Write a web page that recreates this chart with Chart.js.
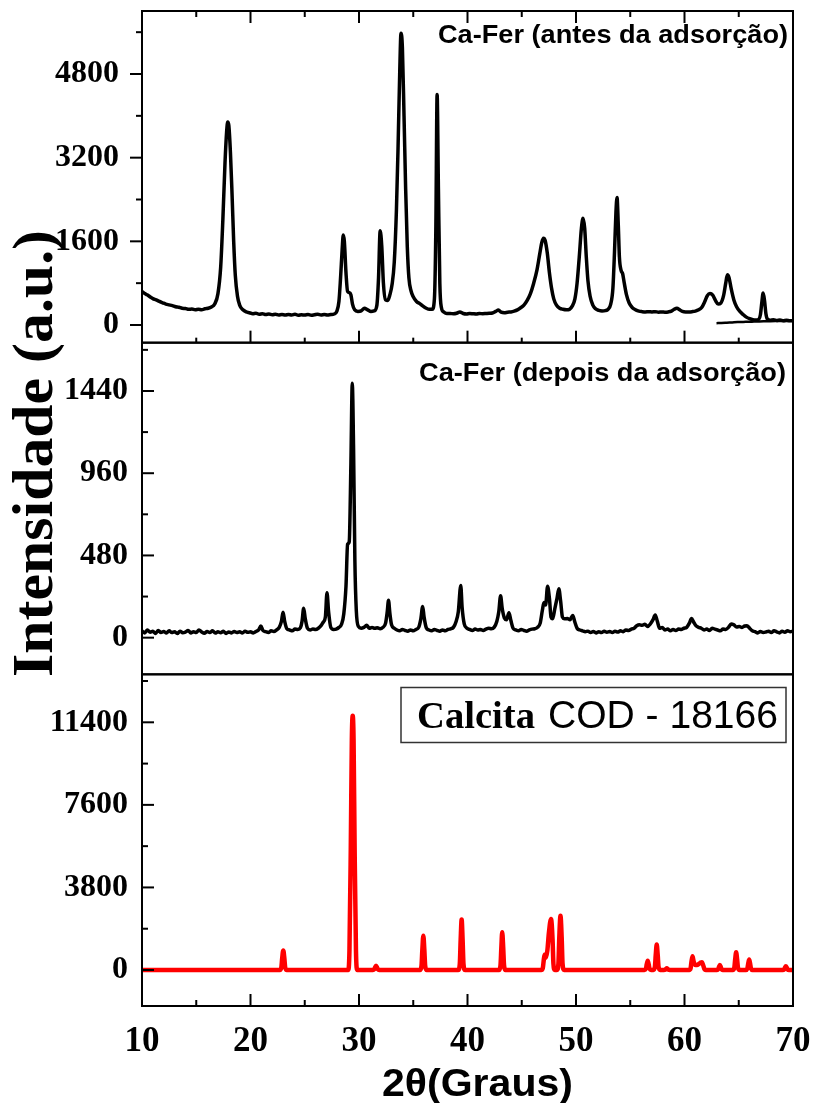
<!DOCTYPE html>
<html>
<head>
<meta charset="utf-8">
<title>DRX Ca-Fer</title>
<script src="https://cdn.jsdelivr.net/npm/chart.js@4.4.1/dist/chart.umd.min.js"></script>
<style>
body{margin:0;background:#fff}
canvas{display:block}
</style>
</head>
<body>
<canvas id="drx" width="816" height="1103"></canvas>
<script>
// Ca-Fer (antes da adsorção)
const antes2t=[
  10.0,10.2,10.4,10.6,10.8,11.0,11.3,11.6,11.9,12.2,
  12.5,12.8,13.1,13.4,13.7,14.0,14.3,14.6,14.9,15.2,
  15.5,15.8,16.1,16.4,16.7,17.0,17.25,17.45,17.65,17.8,
  17.9,18.0,18.15,18.3,18.45,18.6,18.8,19.0,19.3,19.6,
  19.9,20.2,20.5,20.8,21.1,21.4,21.7,22.0,22.3,22.6,
  22.9,23.2,23.5,23.8,24.1,24.4,24.7,25.0,25.3,25.6,
  25.9,26.2,26.5,26.8,27.1,27.4,27.7,27.95,28.15,28.3,
  28.45,28.55,28.65,28.8,28.95,29.1,29.25,29.4,29.6,29.9,
  30.2,30.5,30.8,31.1,31.4,31.65,31.8,31.95,32.1,32.25,
  32.45,32.65,32.85,33.05,33.25,33.45,33.6,33.75,33.87,34.0,
  34.15,34.3,34.45,34.6,34.8,35.0,35.3,35.6,35.9,36.2,
  36.5,36.75,36.95,37.08,37.2,37.32,37.45,37.6,37.8,38.1,
  38.4,38.7,39.0,39.3,39.6,39.9,40.2,40.5,40.8,41.1,
  41.4,41.7,42.0,42.3,42.6,42.85,43.1,43.4,43.7,44.0,
  44.3,44.6,44.9,45.2,45.5,45.8,46.1,46.4,46.65,46.85,
  47.0,47.15,47.35,47.55,47.75,47.95,48.2,48.5,48.8,49.1,
  49.4,49.65,49.9,50.1,50.3,50.5,50.65,50.8,50.95,51.1,
  51.3,51.55,51.8,52.1,52.4,52.7,52.95,53.2,53.4,53.55,
  53.68,53.78,53.9,54.0,54.15,54.3,54.45,54.65,54.9,55.2,
  55.5,55.8,56.1,56.4,56.7,57.0,57.3,57.6,57.9,58.2,
  58.5,58.8,59.05,59.3,59.55,59.8,60.1,60.4,60.7,61.0,
  61.3,61.6,61.85,62.1,62.35,62.6,62.85,63.1,63.35,63.6,
  63.8,63.95,64.1,64.3,64.55,64.8,65.1,65.4,65.7,66.0,
  66.3,66.6,66.85,67.0,67.12,67.25,67.38,67.5,67.65,67.9,
  68.2,68.5,68.8,69.1,69.4,69.7,70.0
]
const antesI=[
  640,610,585,560,530,505,480,450,425,400,
  385,370,350,340,320,315,300,305,290,300,
  290,310,320,345,400,600,1100,2000,3100,3700,
  3880,3820,3300,2500,1600,950,550,380,290,250,
  235,215,225,205,215,200,210,195,205,190,
  200,190,200,190,205,185,195,190,200,185,
  195,205,190,200,190,200,210,260,450,900,
  1450,1720,1600,1000,640,620,580,400,290,260,
  270,320,290,260,270,380,900,1800,1500,800,
  480,470,580,780,1200,2200,3400,4800,5580,5300,
  4000,2600,1500,900,650,540,450,410,360,320,
  300,300,500,1800,4410,2600,800,330,250,220,
  220,215,225,250,220,210,220,215,210,220,
  215,220,225,230,260,285,245,235,245,250,
  265,290,330,380,470,600,800,1050,1350,1580,
  1660,1620,1380,1000,700,500,380,320,300,290,
  300,360,500,800,1300,1850,2040,1850,1300,850,
  550,380,310,280,270,275,300,400,700,1400,
  2150,2440,1900,1300,1050,980,800,580,420,330,
  290,265,255,250,255,250,255,245,250,245,
  250,265,300,320,290,260,250,250,255,265,
  290,340,440,560,600,570,470,400,420,560,
  800,960,910,700,480,350,260,200,150,120,
  100,95,110,200,420,610,460,220,110,90,
  100,85,95,80,90,80,85
]
// second, shorter scan overlapping the end of the pattern
const antesCauda2t=[62.95,63.4,63.9,64.4,64.9,65.4,65.9,66.4,66.9,67.4,67.9,68.4,68.9,69.4,70.0]
const antesCaudaI=[35,40,45,50,55,58,62,65,68,70,72,74,76,78,80]

// Ca-Fer (depois da adsorção)
const depois2t=[
  10.0,10.25,10.5,10.75,11.0,11.25,11.5,11.75,12.0,12.25,
  12.5,12.75,13.0,13.25,13.5,13.75,14.0,14.25,14.5,14.75,
  15.0,15.25,15.5,15.75,16.0,16.25,16.5,16.75,17.0,17.25,
  17.5,17.75,18.0,18.25,18.5,18.75,19.0,19.25,19.5,19.75,
  20.0,20.25,20.5,20.75,20.95,21.15,21.4,21.65,21.9,22.15,
  22.4,22.65,22.85,23.0,23.15,23.35,23.6,23.85,24.1,24.35,
  24.6,24.75,24.9,25.05,25.25,25.5,25.75,26.0,26.25,26.5,
  26.7,26.9,27.05,27.2,27.4,27.65,27.9,28.15,28.4,28.6,
  28.8,28.95,29.1,29.25,29.38,29.5,29.62,29.75,29.95,30.2,
  30.45,30.7,30.95,31.2,31.45,31.7,31.95,32.2,32.45,32.6,
  32.72,32.85,33.0,33.25,33.5,33.75,34.0,34.25,34.5,34.75,
  35.0,35.25,35.5,35.7,35.87,36.0,36.2,36.45,36.7,36.95,
  37.2,37.45,37.7,37.95,38.2,38.45,38.7,38.95,39.15,39.38,
  39.5,39.7,39.95,40.2,40.45,40.7,40.95,41.2,41.45,41.7,
  41.95,42.2,42.45,42.7,42.88,43.05,43.2,43.4,43.6,43.82,
  44.0,44.2,44.45,44.7,44.95,45.2,45.45,45.7,45.95,46.2,
  46.45,46.7,46.9,47.05,47.2,47.38,47.55,47.7,47.85,48.05,
  48.25,48.42,48.58,48.75,48.95,49.2,49.45,49.7,49.9,50.1,
  50.35,50.6,50.85,51.1,51.35,51.6,51.85,52.1,52.35,52.6,
  52.85,53.1,53.35,53.6,53.85,54.1,54.35,54.6,54.85,55.1,
  55.35,55.6,55.85,56.1,56.35,56.6,56.85,57.1,57.3,57.5,
  57.7,57.95,58.2,58.45,58.7,58.95,59.2,59.45,59.7,59.95,
  60.2,60.45,60.65,60.85,61.05,61.3,61.55,61.8,62.05,62.3,
  62.55,62.8,63.05,63.3,63.55,63.8,64.05,64.3,64.55,64.8,
  65.05,65.3,65.55,65.75,66.0,66.25,66.5,66.75,67.0,67.25,
  67.5,67.75,68.0,68.25,68.5,68.75,69.0,69.25,69.5,69.75,
  70.0
]
const depoisI=[
  40,28,45,32,38,25,42,30,36,27,
  40,30,35,24,38,29,33,42,28,35,
  30,45,33,26,36,30,40,27,34,29,
  37,25,33,28,36,30,35,27,38,31,
  34,28,36,45,68,42,35,30,40,36,
  45,60,95,148,95,52,45,40,50,48,
  58,95,172,110,55,45,50,48,55,70,
  90,120,262,150,60,48,50,60,80,140,
  300,545,560,1000,1485,1100,450,160,65,55,
  60,72,55,60,55,58,52,60,85,150,
  218,140,75,55,45,40,48,42,38,45,
  40,48,60,110,182,120,58,45,40,48,
  42,38,45,40,48,52,60,95,150,305,
  180,80,55,48,42,50,45,48,42,50,
  55,52,60,95,150,245,170,115,105,145,
  100,55,45,40,48,42,38,45,50,52,
  60,85,160,205,190,300,230,120,110,170,
  230,285,215,120,110,112,105,130,90,55,
  45,40,35,38,30,36,28,35,30,38,
  32,36,30,38,33,40,35,45,42,50,
  55,70,75,72,78,65,80,105,132,95,
  55,60,45,50,40,48,42,50,48,55,
  60,85,112,90,70,60,55,45,50,42,
  55,50,45,40,50,48,60,80,75,62,
  65,60,68,70,55,40,35,28,36,30,
  33,38,30,40,34,28,38,32,40,35,
  38
]

// Calcita COD - 18166 (padrão de referência)
const calcita2t=[
  10.0,22.7,22.84,22.92,23.02,23.12,23.2,23.34,
  29.0,29.12,29.24,29.34,29.42,29.5,29.6,29.72,29.84,
  31.28,31.4,31.48,31.57,31.66,31.74,31.86,
  35.62,35.76,35.84,35.93,36.02,36.1,36.24,
  39.15,39.29,39.37,39.46,39.55,39.63,39.77,
  42.9,43.04,43.12,43.2,43.29,43.37,43.5,
  46.8,46.94,47.02,47.1,47.2,47.36,47.5,47.7,47.84,47.92,48.04,
  48.25,48.38,48.46,48.57,48.68,48.76,48.9,
  56.3,56.44,56.52,56.61,56.7,56.78,56.92,
  57.13,57.27,57.35,57.44,57.53,57.61,57.75,
  58.1,58.22,58.29,58.37,58.45,58.52,58.64,
  60.44,60.56,60.64,60.74,60.84,60.98,61.15,61.35,61.5,61.6,61.72,61.84,61.96,
  63.0,63.1,63.18,63.26,63.34,63.42,63.52,
  64.45,64.59,64.67,64.76,64.85,64.93,65.07,
  65.65,65.79,65.87,65.96,66.05,66.13,66.27,
  69.05,69.17,69.25,69.34,69.43,69.51,69.63,70.0
]
const calcitaI=[
  0,0,110,540,900,540,110,0,
  0,900,5500,10600,11700,10600,5500,900,0,
  0,25,120,200,120,25,0,
  0,190,950,1580,950,190,0,
  0,280,1390,2320,1390,280,0,
  0,210,1040,1740,1040,210,0,
  0,85,420,700,560,900,1700,2350,1410,280,0,
  0,300,1500,2500,1500,300,0,
  0,50,260,430,260,50,0,
  0,140,700,1170,700,140,0,
  0,10,50,80,50,10,0,
  0,70,380,630,400,240,230,290,340,355,220,40,0,
  0,30,140,230,140,30,0,
  0,100,490,815,490,100,0,
  0,60,290,480,290,60,0,
  0,20,100,170,100,20,0,0
]

// axis ranges and labelled ticks
const xTicks=[10,20,30,40,50,60,70]
const yTicks={yA:[0,1600,3200,4800],yB:[0,480,960,1440],yC:[0,3800,7600,11400]}
const yRanges={yA:[-338,6005],yB:[-214,1722],yC:[-1657,13608]}

const serif='Liberation Serif', sans='Liberation Sans'
const pts=(xs,ys)=>xs.map((x,i)=>({x,y:ys[i]}))

function yAxis(id,pad){
    return {
        type:'linear',position:'left',stack:'drx',stackWeight:1,
        min:yRanges[id][0],max:yRanges[id][1],
        border:{display:false},
        grid:{display:false,drawTicks:false},
        afterBuildTicks:s=>{s.ticks=yTicks[id].map(v=>({value:v}))},
        ticks:{autoSkip:false,padding:pad,color:'#000',
            font:{family:serif,size:32,weight:'bold'},callback:v=>String(v)},
        afterFit:s=>{s.width=142;s.paddingTop=0;s.paddingBottom=0}
    }
}

// stretch a line of text to a given width
function fitText(ctx,text,x,y,w){
    const m=ctx.measureText(text).width
    ctx.save()
    ctx.translate(x,y)
    ctx.scale(w/m,1)
    ctx.fillText(text,0,0)
    ctx.restore()
}

// frame, tick marks and the labels drawn inside the panels
const moldura={
    id:'moldura',
    afterDraw(chart){
        const {ctx,chartArea:{left,right}}=chart
        const sx=chart.scales.x, yA=chart.scales.yA, yB=chart.scales.yB, yC=chart.scales.yC
        ctx.save()
        ctx.strokeStyle='#000'
        ctx.lineWidth=2
        for(const s of [yA,yB,yC]) ctx.strokeRect(left,s.top,right-left,s.bottom-s.top)

        const line=(x1,y1,x2,y2)=>{ctx.beginPath();ctx.moveTo(x1,y1);ctx.lineTo(x2,y2);ctx.stroke()}
        for(let v=15;v<70;v+=5){
            const px=sx.getPixelForValue(v)
            const major=v%10===0
            line(px,yA.top,px,yA.top+(major?12:6))
            line(px,yA.bottom,px,yA.bottom-(major?12:5))
            line(px,yC.bottom,px,yC.bottom-(major?12:6))
        }
        // top panel: ticks outside, the other two: ticks inside
        for(let v=0;v<=5600;v+=800){
            const py=yA.getPixelForValue(v)
            line(left-(v%1600===0?12:6),py,left,py)
        }
        for(let v=0;v<=1680;v+=240){
            const py=yB.getPixelForValue(v)
            line(left,py,left+(v%480===0?12:6),py)
        }
        for(let v=0;v<=13300;v+=1900){
            const py=yC.getPixelForValue(v)
            line(left,py,left+(v%3800===0?12:6),py)
        }

        ctx.fillStyle='#000'
        ctx.textAlign='left'
        ctx.textBaseline='alphabetic'
        ctx.font=`bold 26px '${sans}'`
        fitText(ctx,'Ca-Fer (antes da adsorção)',438,43,350)
        fitText(ctx,'Ca-Fer (depois da adsorção)',419,381,367)

        // legend box of the reference pattern
        ctx.lineWidth=1.5
        ctx.strokeStyle='#333'
        ctx.strokeRect(401,687.5,385,55)
        ctx.font=`bold 38px '${serif}'`
        fitText(ctx,'Calcita',417,728,118)
        ctx.font=`38px '${sans}'`
        fitText(ctx,'COD - 18166',548,728,230)

        // axis titles
        ctx.font=`bold 39px '${sans}'`
        fitText(ctx,'2θ(Graus)',382,1096,191)
        ctx.save()
        ctx.translate(52,677)
        ctx.rotate(-Math.PI/2)
        ctx.font=`bold 57px '${serif}'`
        fitText(ctx,'Intensidade (a.u.)',0,0,447)
        ctx.restore()
        ctx.restore()
    }
}

const linha={pointRadius:0,fill:false,cubicInterpolationMode:'monotone',borderJoinStyle:'round',borderColor:'#000',borderWidth:3.5}

new Chart(document.querySelector('#drx'),{
    type:'line',
    data:{
        datasets:[
            {...linha,data:pts(antes2t,antesI),yAxisID:'yA'},
            {...linha,data:pts(antesCauda2t,antesCaudaI),yAxisID:'yA',borderWidth:2.5},
            {...linha,data:pts(depois2t,depoisI),yAxisID:'yB'},
            {...linha,data:pts(calcita2t,calcitaI),yAxisID:'yC',borderColor:'#ff0000',borderWidth:4.5}
        ]
    },
    options:{
        responsive:false,
        animation:false,
        devicePixelRatio:1,
        layout:{padding:{top:11,right:23,left:0,bottom:0}},
        plugins:{legend:{display:false},tooltip:{enabled:false}},
        scales:{
            x:{
                type:'linear',position:'bottom',min:10,max:70,
                border:{display:false},
                grid:{display:false,drawTicks:false},
                afterBuildTicks:s=>{s.ticks=xTicks.map(v=>({value:v}))},
                ticks:{padding:15,autoSkip:false,maxRotation:0,color:'#000',
                    font:{family:serif,size:35,weight:'bold'},callback:v=>String(v)},
                afterFit:s=>{s.height=97;s.paddingLeft=0;s.paddingRight=0}
            },
            yC:yAxis('yC',14),
            yB:yAxis('yB',14),
            yA:yAxis('yA',23)
        }
    },
    plugins:[moldura]
})
</script>
</body>
</html>
